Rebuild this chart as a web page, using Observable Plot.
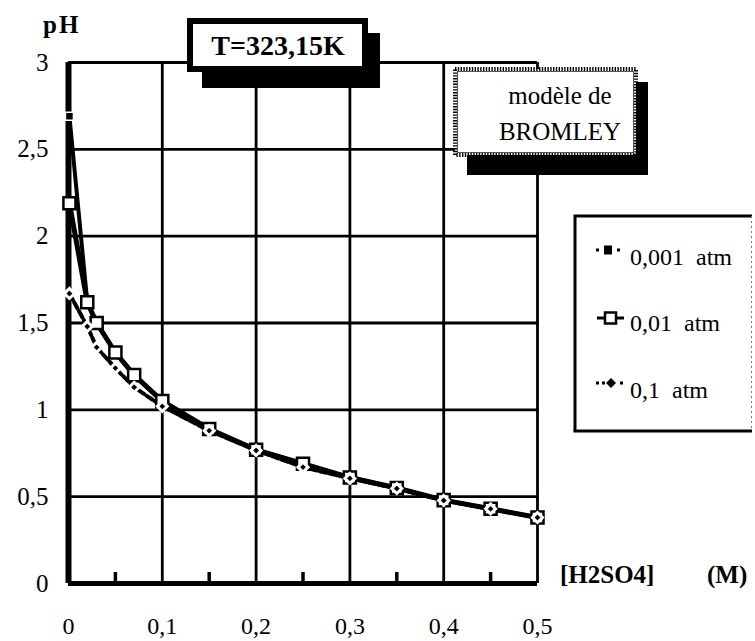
<!DOCTYPE html>
<html><head><meta charset="utf-8">
<script src="https://cdn.jsdelivr.net/npm/d3@7"></script>
<script src="https://cdn.jsdelivr.net/npm/@observablehq/plot@0.6"></script>
<style>
html,body{margin:0;padding:0;background:#fff;}
#chart svg{display:block;}
#chart svg text{font-family:"Liberation Serif", serif;}
</style>
</head><body><div id="chart"></div>
<script>
// ---- data ----
const conc = [0.001, 0.02, 0.03, 0.05, 0.07, 0.1, 0.15, 0.2, 0.25, 0.3, 0.35, 0.4, 0.45, 0.5];
const ph0001 = [2.69, 1.62, 1.50, 1.33, 1.20, 1.05, 0.89, 0.77, 0.69, 0.61, 0.55, 0.48, 0.43, 0.38];
const ph001  = [2.19, 1.62, 1.50, 1.33, 1.20, 1.05, 0.89, 0.77, 0.69, 0.61, 0.55, 0.48, 0.43, 0.38];
const ph01   = [1.67, 1.48, 1.36, 1.24, 1.13, 1.02, 0.88, 0.766, 0.67, 0.605, 0.547, 0.478, 0.43, 0.38];
const seriesNames = ["0,001  atm", "0,01  atm", "0,1  atm"];
const xTicks = [0, 0.1, 0.2, 0.3, 0.4, 0.5];
const xTickLabels = ["0", "0,1", "0,2", "0,3", "0,4", "0,5"];
const minorTicks = [0.05, 0.15, 0.25, 0.35, 0.45];
const yTicks = [0, 0.5, 1, 1.5, 2, 2.5, 3];
const yTickLabels = ["0", "0,5", "1", "1,5", "2", "2,5", "3"];
const yLabel = "pH";
const xLabel = "[H2SO4]";
const xUnit = "(M)";
const titleText = "T=323,15K";
const modelLines = ["modèle de", "BROMLEY"];

const seriesValues = [ph0001, ph001, ph01];
const rows = [];
seriesNames.forEach((s, k) => conc.forEach((c, i) => rows.push({series: s, conc: c, ph: seriesValues[k][i]})));
const bySeries = s => rows.filter(r => r.series === s);

const W = 755, H = 641, mL = 68, mR = 218, mT = 62, mB = 58;
const frameH = H - mT - mB;
const serif = "Liberation Serif";

const chart = Plot.plot({
  width: W, height: H,
  marginLeft: mL, marginRight: mR, marginTop: mT, marginBottom: mB,
  style: {fontFamily: serif, fontSize: "24px", background: "white", color: "black", overflow: "visible"},
  x: {domain: [0, 0.5], label: null},
  y: {domain: [0, 3], label: null},
  marks: [
    Plot.ruleX(xTicks.filter(d => d > 0), {stroke: "black", strokeWidth: 2.8}),
    Plot.ruleY(yTicks.filter(d => d > 0), {stroke: "black", strokeWidth: 2.8}),
    Plot.ruleX(minorTicks, {stroke: "black", strokeWidth: 3.5, insetTop: frameH - 11}),
    Plot.ruleX([0], {stroke: "black", strokeWidth: 6}),
    Plot.ruleY([0], {stroke: "black", strokeWidth: 5}),
    Plot.axisX(xTicks, {tickSize: 0, tickPadding: 33, fontSize: 24, fontFamily: serif, tickFormat: d => xTickLabels[xTicks.indexOf(d)]}),
    Plot.axisY(yTicks, {tickSize: 0, tickPadding: 20, fontSize: 25, fontFamily: serif, tickFormat: d => yTickLabels[yTicks.indexOf(d)]}),
    Plot.line(bySeries(seriesNames[0]), {x: "conc", y: "ph", stroke: "black", strokeWidth: 4}),
    Plot.line(bySeries(seriesNames[1]), {x: "conc", y: "ph", stroke: "black", strokeWidth: 5}),
    Plot.line(bySeries(seriesNames[2]), {x: "conc", y: "ph", stroke: "black", strokeWidth: 4, strokeDasharray: "7,3"}),
    Plot.dot(bySeries(seriesNames[0]), {x: "conc", y: "ph", symbol: "square", r: 4.5, fill: "black", stroke: "white", strokeWidth: 1.5}),
    Plot.dot(bySeries(seriesNames[1]), {x: "conc", y: "ph", symbol: "square", r: 6.8, fill: "white", stroke: "black", strokeWidth: 2.5}),
    Plot.dot(bySeries(seriesNames[2]), {x: "conc", y: "ph", symbol: "diamond2", r: 4.5, fill: "black", stroke: "white", strokeWidth: 3})
  ]
});
document.getElementById("chart").appendChild(chart);

// ---- annotations ----
const svg = d3.select(chart);
const g = svg.append("g").attr("fill", "black").attr("text-anchor", "start");
const txt = (x, y, s, size, opts = {}) => {
  const t = g.append("text").attr("x", x).attr("y", y).text(s)
    .style("font-family", "'Liberation Serif', serif").style("font-size", size + "px")
    .style("white-space", "pre")
    .attr("text-anchor", opts.anchor || "start");
  if (opts.bold) t.style("font-weight", "bold");
  if (opts.ls) t.attr("letter-spacing", opts.ls);
  return t;
};

// axis labels
txt(43, 33, yLabel, 25, {bold: true, ls: 2});
txt(560, 583, xLabel, 25, {bold: true});
txt(707, 583, xUnit, 25, {bold: true});

// Title box with shadow
g.append("rect").attr("x", 202).attr("y", 33).attr("width", 178).attr("height", 55).attr("fill", "black");
g.append("rect").attr("x", 190).attr("y", 21).attr("width", 175).attr("height", 48)
  .attr("fill", "white").attr("stroke", "black").attr("stroke-width", 6);
txt(278, 55, titleText, 28, {bold: true, anchor: "middle"});

// Model box with shadow
g.append("rect").attr("x", 467).attr("y", 82).attr("width", 181).attr("height", 93).attr("fill", "black");
g.append("rect").attr("x", 455).attr("y", 69).attr("width", 181).attr("height", 86)
  .attr("fill", "white").attr("stroke", "black").attr("stroke-width", 4).attr("stroke-dasharray", "1.4,1.4");
g.append("rect").attr("x", 457.5).attr("y", 71.5).attr("width", 176).attr("height", 81)
  .attr("fill", "none").attr("stroke", "#555").attr("stroke-width", 1);
txt(560, 104, modelLines[0], 25, {anchor: "middle"});
txt(560, 140, modelLines[1], 25, {anchor: "middle"});

// Legend box
g.append("rect").attr("x", 574).attr("y", 216).attr("width", 178).attr("height", 215)
  .attr("fill", "white").attr("stroke", "none");
g.append("path").attr("d", "M575,431V216H752").attr("fill", "none").attr("stroke", "black").attr("stroke-width", 3);
g.append("path").attr("d", "M573.5,431H752").attr("fill", "none").attr("stroke", "black").attr("stroke-width", 3);
g.append("path").attr("d", "M751.5,216V431").attr("fill", "none").attr("stroke", "#777").attr("stroke-width", 1).attr("stroke-dasharray", "2,3");

const legY = [250, 318, 383];
const legBase = [265, 331, 398];
// entry 1: dots + filled square
g.append("rect").attr("x", 596).attr("y", legY[0] - 1.5).attr("width", 3).attr("height", 3);
g.append("rect").attr("x", 604).attr("y", legY[0] - 4.5).attr("width", 8).attr("height", 9);
g.append("rect").attr("x", 617).attr("y", legY[0] - 1.5).attr("width", 3).attr("height", 3);
// entry 2: line + open square
g.append("line").attr("x1", 597).attr("x2", 624).attr("y1", legY[1]).attr("y2", legY[1]).attr("stroke", "black").attr("stroke-width", 3);
g.append("rect").attr("x", 605).attr("y", legY[1] - 5.5).attr("width", 11).attr("height", 11)
  .attr("fill", "white").attr("stroke", "black").attr("stroke-width", 2.5);
// entry 3: dots + diamond
g.append("rect").attr("x", 596).attr("y", legY[2] - 1.5).attr("width", 3).attr("height", 3);
g.append("rect").attr("x", 602).attr("y", legY[2] - 1.5).attr("width", 3).attr("height", 3);
g.append("path").attr("d", `M611,${legY[2] - 5}l5,5l-5,5l-5,-5z`);
g.append("rect").attr("x", 620).attr("y", legY[2] - 1.5).attr("width", 3).attr("height", 3);

seriesNames.forEach((s, i) => txt(630, legBase[i], s, 24));
</script>
</body></html>
